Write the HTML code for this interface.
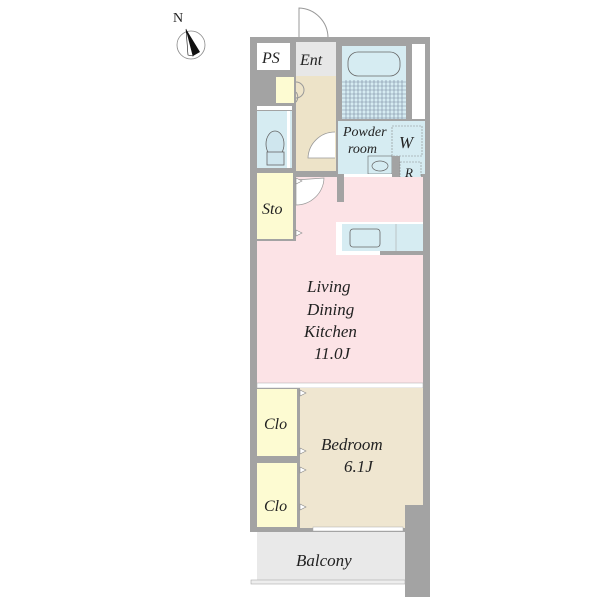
<!DOCTYPE html>
<html><head><style>body{margin:0;background:#fff}svg{display:block}text{font-family:"Liberation Serif",serif;font-style:italic;fill:#222}</style></head>
<body>
<svg width="600" height="600" viewBox="0 0 600 600" xmlns="http://www.w3.org/2000/svg">
<text x="173" y="22" font-size="14" style="font-style:normal">N</text>
<circle cx="191" cy="45" r="14" fill="#fff" stroke="#888" stroke-width="0.8"/>
<polygon points="186,29 200,52 193,56" fill="#111"/>
<polygon points="186,29 193,56 188,55" fill="#fff" stroke="#111" stroke-width="0.6"/>
<path d="M299,40 L299,8 A30,30 0 0 1 328,38" fill="none" stroke="#999" stroke-width="1"/>
<rect x="250" y="37" width="180" height="495" fill="#a3a3a3"/>
<rect x="412" y="44" width="13" height="75" fill="#fff"/>
<rect x="257" y="43" width="33" height="27" fill="#fff"/>
<text x="262" y="63" font-size="16">PS</text>
<rect x="296" y="42" width="40" height="34" fill="#e7e7e7"/>
<text x="300" y="65" font-size="16">Ent</text>
<rect x="296" y="76" width="40" height="95" fill="#ede3c8"/>
<rect x="276" y="77" width="18" height="26" fill="#fdfbd2"/>
<path d="M296,82 a8,8 0 0 1 0,16 M296,92 a8,8 0 0 1 0,10" fill="none" stroke="#999"/>
<path d="M335,132 A27,27 0 0 0 308,158 L335,158" fill="#fff" stroke="#999" stroke-width="0.8"/>
<rect x="257" y="106" width="35" height="4" fill="#fff"/>
<rect x="257" y="111" width="35" height="57" fill="#d6ecf2"/>
<rect x="287" y="111" width="3" height="57" fill="#fff"/>
<ellipse cx="275" cy="144" rx="9" ry="13" fill="#cfe6ee" stroke="#666" stroke-width="0.8"/>
<rect x="267" y="152" width="17" height="13" fill="#cfe6ee" stroke="#666" stroke-width="0.8"/>
<rect x="342" y="46" width="64" height="73" fill="#d6ecf2"/>
<rect x="348" y="52" width="52" height="24" rx="10" fill="#d6ecf2" stroke="#666" stroke-width="0.8"/>
<g stroke="#7b8aa0" stroke-width="0.6">
<path d="M342,82H406M342,86H406M342,90H406M342,94H406M342,98H406M342,102H406M342,106H406M342,110H406M342,114H406M342,118H406"/>
<path d="M346,80V119M350,80V119M354,80V119M358,80V119M362,80V119M366,80V119M370,80V119M374,80V119M378,80V119M382,80V119M386,80V119M390,80V119M394,80V119M398,80V119M402,80V119"/>
</g>
<rect x="338" y="121" width="87" height="53" fill="#d6ecf2"/>
<rect x="392" y="126" width="30" height="30" fill="#d6ecf2" stroke="#888" stroke-dasharray="2,1" stroke-width="0.6"/>
<text x="399" y="148" font-size="17">W</text>
<rect x="368" y="156" width="24" height="18" fill="#d6ecf2" stroke="#666" stroke-width="0.6"/>
<ellipse cx="380" cy="166" rx="8" ry="5" fill="none" stroke="#666" stroke-width="0.7"/>
<rect x="392" y="156" width="8" height="28" fill="#a3a3a3"/>
<rect x="400" y="162" width="21" height="20" fill="#d6ecf2" stroke="#888" stroke-dasharray="2,1" stroke-width="0.6"/>
<text x="405" y="177" font-size="13">R</text>
<text x="343" y="136" font-size="14">Powder</text>
<text x="348" y="153" font-size="14">room</text>
<rect x="296" y="177" width="127" height="64" fill="#fce3e6"/>
<rect x="257" y="241" width="166" height="142" fill="#fce3e6"/>
<rect x="338" y="174" width="54" height="3" fill="#fff"/>
<rect x="337" y="174" width="7" height="28" fill="#a3a3a3"/>
<path d="M296,180 L296,205 A28,28 0 0 0 324,178 Z" fill="#fff" stroke="#999" stroke-width="0.7"/>
<rect x="257" y="173" width="36" height="66" fill="#fdfbd2"/>
<text x="262" y="214" font-size="16">Sto</text>
<polygon points="296,178 302,181 296,184" fill="#fff" stroke="#888" stroke-width="0.6"/>
<polygon points="296,230 302,233 296,236" fill="#fff" stroke="#888" stroke-width="0.6"/>
<rect x="336" y="222" width="87" height="33" fill="#fff"/>
<rect x="342" y="224" width="81" height="27" fill="#d6ecf2"/>
<line x1="396" y1="224" x2="396" y2="251" stroke="#aaa" stroke-width="0.6"/>
<rect x="350" y="229" width="30" height="18" rx="3" fill="none" stroke="#666" stroke-width="0.8"/>
<rect x="380" y="251" width="43" height="4" fill="#a3a3a3"/>
<text x="307" y="292" font-size="17">Living</text>
<text x="307" y="315" font-size="17">Dining</text>
<text x="304" y="337" font-size="17">Kitchen</text>
<text x="314" y="359" font-size="17">11.0J</text>
<rect x="257" y="383" width="166" height="5" fill="#fff" stroke="#aaa" stroke-width="0.5"/>
<rect x="300" y="388" width="123" height="140" fill="#efe6d0"/>
<rect x="405" y="505" width="25" height="92" fill="#a3a3a3"/>
<text x="321" y="450" font-size="17">Bedroom</text>
<text x="344" y="472" font-size="17">6.1J</text>
<rect x="313" y="527" width="90" height="4" fill="#fff" stroke="#aaa" stroke-width="0.5"/>
<rect x="257" y="389" width="40" height="67" fill="#fdfbd2"/>
<rect x="257" y="463" width="40" height="64" fill="#fdfbd2"/>
<text x="264" y="429" font-size="16">Clo</text>
<text x="264" y="511" font-size="16">Clo</text>
<g fill="#fff" stroke="#888" stroke-width="0.6">
<polygon points="300,390 306,393 300,396"/><polygon points="300,448 306,451 300,454"/>
<polygon points="300,467 306,470 300,473"/><polygon points="300,504 306,507 300,510"/>
</g>
<rect x="257" y="532" width="148" height="48" fill="#e9e9e9"/>
<rect x="251" y="580" width="154" height="4" fill="#eee" stroke="#aaa" stroke-width="0.6"/>
<text x="296" y="566" font-size="17">Balcony</text>
</svg>
</body></html>
